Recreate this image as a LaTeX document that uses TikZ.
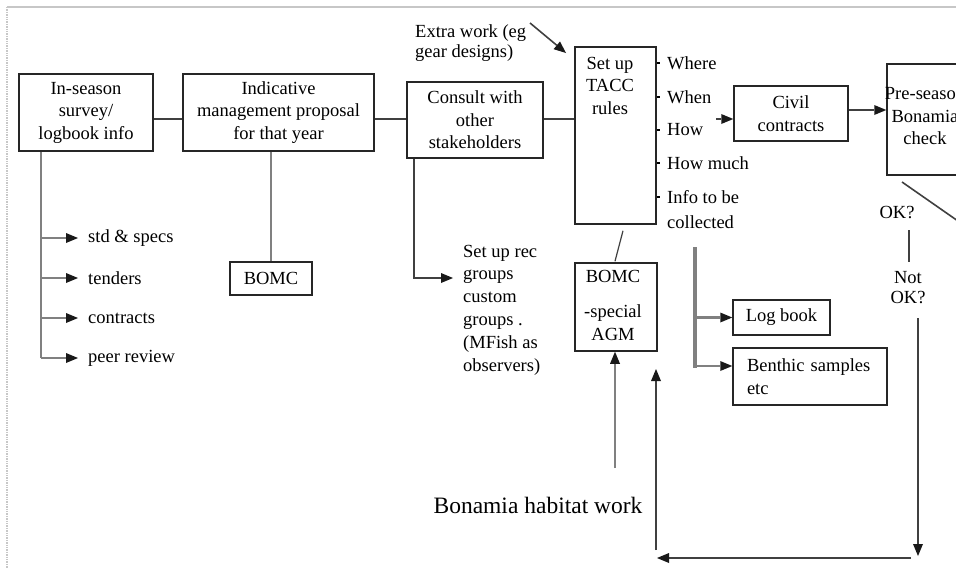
\documentclass[tikz,border=0pt]{standalone}
\usepackage{fontspec}
\setmainfont{Liberation Serif}
\usetikzlibrary{arrows.meta,calc}
\begin{document}
\begin{tikzpicture}[x=1pt,y=-1pt,
  txt/.style={font=\fontsize{18.5}{22.5}\selectfont, inner sep=0pt},
  box/.style={draw=black!85, line width=1.5pt, fill=white, inner sep=0pt, txt, align=center},
  link/.style={draw=black!75, line width=1.6pt},
  glink/.style={draw=black!50, line width=2.2pt},
  tip/.style={-{Triangle[length=12pt,width=10pt,color=black!90,line width=0pt]}},
  frame/.style={draw=black!22, line width=1.4pt},
]
\useasboundingbox (0,0) rectangle (956,568);
\clip (0,0) rectangle (956,568);

% page frame
\draw[frame] (7,7) -- (956,7);
\draw[frame, densely dotted] (7,7) -- (7,568);

% main row of boxes
\node[box, minimum width=134pt, minimum height=77pt] (inseason) at (86,112.5) {In-season\\survey/\\logbook info};
\node[box, minimum width=191pt, minimum height=77pt] (indic) at (278.5,112.5) {Indicative\\management proposal\\for that year};
\node[box, minimum width=136pt, minimum height=76pt] (consult) at (475,120) {Consult with\\other\\stakeholders};
\node[box, minimum width=81pt, minimum height=177pt] (tacc) at (615.5,135.5) {};
\node[txt, align=center] (tacct) at (610,85.5) {Set up\\TACC\\rules};
\node[box, minimum width=114pt, minimum height=55pt] (civil) at (791,113.5) {Civil\\contracts};
\node[box, minimum width=90pt, minimum height=111pt] (pre) at (932,119.5) {};
\node[txt, align=center] (pret) at (925,116.5) {Pre-season\\Bonamia\\check};

% lower boxes
\node[box, minimum width=82pt, minimum height=33pt] (bomc) at (271,278.5) {BOMC};
\node[box, minimum width=82pt, minimum height=88pt] (agm) at (616,307) {};
\node[txt, align=center] (agmt) at (613,305.5) {BOMC\\[12.5pt]-special\\AGM};
\node[box, minimum width=97pt, minimum height=35pt] (logbook) at (781.5,317.5) {Log book};
\node[box, minimum width=154pt, minimum height=57pt, align=left, text width=126pt] (benthic) at (810,376.5) {Benthic samples\\etc};

% free labels
\node[txt, anchor=west, align=left, font=\fontsize{18.5}{20}\selectfont] (extra) at (415,43) {Extra work (eg\\gear designs)};
\node[txt, anchor=west] (where) at (667,63) {Where};
\node[txt, anchor=west] (when) at (667,97) {When};
\node[txt, anchor=west] (how) at (667,130) {How};
\node[txt, anchor=west] (howmuch) at (667,163) {How much};
\node[txt, anchor=west, align=left, font=\fontsize{18.5}{25}\selectfont] (info) at (667,209.5) {Info to be\\collected};

\node[txt, anchor=west] (std) at (88,238) {std \& specs};
\node[txt, anchor=west] (tend) at (88,278) {tenders};
\node[txt, anchor=west] (contr) at (88,318) {contracts};
\node[txt, anchor=west] (peer) at (88,358) {peer review};

\node[txt, anchor=west, align=left, font=\fontsize{18.5}{22.8}\selectfont] (rec) at (463,310) {Set up rec\\groups\\custom\\groups .\\(MFish as\\observers)};

\node[txt] (ok1) at (897,213) {OK?};
\node[txt, align=center, font=\fontsize{18.5}{20}\selectfont] (notok) at (908,288) {Not\\OK?};
\node[font=\fontsize{23.5}{28}\selectfont, inner sep=0pt] (bon) at (538,505) {Bonamia habitat work};

% helper points
\coordinate (row) at (0,119);
\coordinate (isx) at (41,0);
\coordinate (cx) at (414,0);
\coordinate (recin) at (453,278);
\coordinate (xw) at (530,23);
\coordinate (xt) at (566,53);
\coordinate (civin) at (716,119);
\coordinate (diag1) at (902,182);
\coordinate (diag2) at (968,228);
\coordinate (okl1) at (909,230);
\coordinate (okl2) at (909,262);
\coordinate (rd1) at (918,318);
\coordinate (rd2) at (918,556);
\coordinate (bl1) at (911,558);
\coordinate (bl2) at (657,558);
\coordinate (up1) at (656,550);
\coordinate (up2) at (656,369);
\coordinate (bonup) at (615,468);
\coordinate (bar) at (695,247);
\coordinate (barend) at (695,368);

% main row links
\draw[link] (inseason.east |- row) -- (indic.west |- row);
\draw[link] (indic.east |- row) -- (consult.west |- row);
\draw[link] (consult.east |- row) -- (tacc.west |- row);
\draw[link, tip] (xw) -- (xt);

% ticks beside the TACC box
\foreach \n in {where,when,how,howmuch}
  \draw[draw=black, line width=1.5pt] (tacc.east |- \n.west) -- ++(3,0);
\draw[draw=black, line width=1.5pt] (tacc.east |- 0,197) -- ++(3,0);

% in-season branches
\draw[glink] (inseason.south -| isx) -- (isx |- peer.west);
\foreach \n in {std,tend,contr,peer}
  \draw[glink, tip] (isx |- \n.west) -- ([xshift=-10pt]\n.west);

% management proposal to BOMC
\draw[glink] (indic.south -| bomc.north) -- (bomc.north);

% consultation to recreational groups
\draw[link, tip] (consult.south -| cx) |- (recin);

% contracts and pre-season check
\draw[link, tip] (civin) -- (civil.west |- civin);
\draw[link, tip] ([yshift=3.5pt]civil.east) -- ([yshift=3.5pt]civil.east -| pre.west);
\draw[link] (diag1) -- (diag2);
\draw[link] (okl1) -- (okl2);

% feedback loop
\draw[link, tip] (rd1) -- (rd2);
\draw[link, tip] (bl1) -- (bl2);
\draw[link, tip] (up1) -- (up2);

% TACC rules to special AGM, habitat work into AGM
\draw[link, line width=1.2pt] ([xshift=7.5pt,yshift=-6pt]tacc.south) -- ([xshift=-1pt,yshift=1pt]agm.north);
\draw[glink, tip] (bonup) -- (agm.south -| bonup);

% data collection branches
\draw[draw=black!50, line width=4.5pt] (bar) -- (barend);
\draw[glink, tip] (bar |- logbook.west) -- (logbook.west);
\draw[glink, tip] ([yshift=10.5pt]benthic.west -| bar) -- ([yshift=10.5pt]benthic.west);
\end{tikzpicture}
\end{document}
